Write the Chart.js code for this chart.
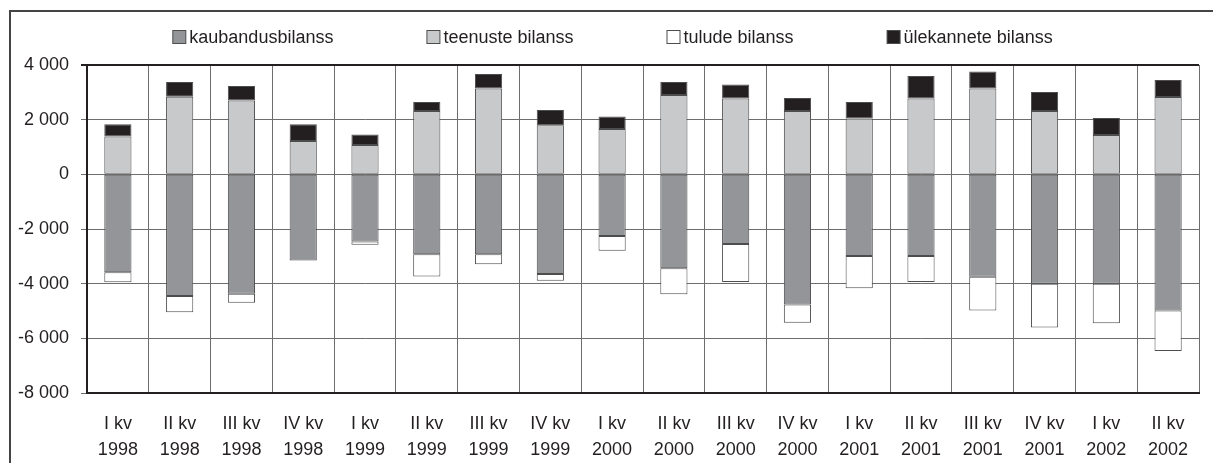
<!DOCTYPE html>
<html>
<head>
<meta charset="utf-8">
<script src="https://cdn.jsdelivr.net/npm/chart.js@4"></script>
<style>
  html, body { margin: 0; padding: 0; background: #fff; overflow: hidden; }
  #frame { position: absolute; left: 9px; top: 10px; width: 1300px; height: 600px; border: 2px solid #444; }
  #wrap { position: absolute; left: 0; top: 0; width: 1213px; height: 463px; }
</style>
</head>
<body>
<div id="frame"></div>
<div id="wrap"><canvas id="balance" width="1213" height="463"></canvas></div>
<script>
// --- andmed ---
const quarters = ["I kv", "II kv", "III kv", "IV kv", "I kv", "II kv", "III kv", "IV kv", "I kv",
                  "II kv", "III kv", "IV kv", "I kv", "II kv", "III kv", "IV kv", "I kv", "II kv"];
const years = ["1998", "1998", "1998", "1998", "1999", "1999", "1999", "1999", "2000",
               "2000", "2000", "2000", "2001", "2001", "2001", "2001", "2002", "2002"];
const kaubandus = [-3580, -4450, -4370, -3150, -2460, -2920, -2920, -3650, -2260,
                   -3440, -2550, -4760, -2990, -2990, -3750, -4000, -4000, -4980];
const teenused = [1380, 2840, 2700, 1220, 1070, 2320, 3140, 1800, 1660,
                  2900, 2770, 2320, 2040, 2770, 3140, 2320, 1440, 2830];
const tulud = [-370, -600, -330, 0, -120, -820, -370, -240, -540,
               -950, -1390, -670, -1180, -950, -1230, -1600, -1450, -1480];
const ylekanded = [450, 540, 530, 610, 390, 330, 530, 550, 460,
                   480, 520, 475, 605, 830, 625, 695, 620, 620];
const yTicks = [4000, 2000, 0, -2000, -4000, -6000, -8000];

const FONT = "'Liberation Sans', Arial, sans-serif";
const TEXT = "#231f20";
const EDGE = "#4d4d4d";

// legend drawn by hand: Excel-like spacing
const legendPlugin = {
    id: "excelLegend",
    afterDraw(chart) {
        const ctx = chart.ctx;
        const box = 14, gap = 3, space = 93;
        ctx.save();
        ctx.font = "18px " + FONT;
        const items = chart.data.datasets.map(ds => ({
            label: ds.label,
            color: ds.backgroundColor,
            w: box + gap + ctx.measureText(ds.label).width
        }));
        const total = items.reduce((s, it) => s + it.w, 0) + space * (items.length - 1);
        let x = chart.width / 2 + 6 - total / 2;
        const y = 37;
        items.forEach(it => {
            ctx.fillStyle = it.color;
            ctx.fillRect(x + 0.5, y - 6.5, box - 1, box - 1);
            ctx.strokeStyle = EDGE;
            ctx.lineWidth = 1;
            ctx.strokeRect(x + 0.5, y - 6.5, box - 1, box - 1);
            ctx.fillStyle = TEXT;
            ctx.textBaseline = "middle";
            ctx.fillText(it.label, x + box + gap, y + 1);
            x += it.w + space;
        });
        ctx.restore();
    }
};

function fmt(v) {
    const s = String(Math.abs(v)).replace(/\B(?=(\d{3})+(?!\d))/g, " ");
    return (v < 0 ? "-" : "") + s;
}

new Chart(document.getElementById("balance"), {
    type: "bar",
    data: {
        labels: quarters.map((q, i) => [q, years[i]]),
        datasets: [
            { label: "kaubandusbilanss", data: kaubandus, backgroundColor: "#939598" },
            { label: "teenuste bilanss", data: teenused, backgroundColor: "#c8c9cb" },
            { label: "tulude bilanss", data: tulud, backgroundColor: "#ffffff" },
            { label: "ülekannete bilanss", data: ylekanded, backgroundColor: "#231f20" }
        ]
    },
    options: {
        responsive: false,
        animation: false,
        layout: { padding: { top: 65, right: 14, bottom: 0, left: 0 } },
        datasets: {
            bar: {
                borderColor: EDGE,
                borderWidth: 1,
                borderSkipped: false,
                categoryPercentage: 1,
                barPercentage: 0.44
            }
        },
        plugins: {
            legend: { display: false },
            tooltip: { enabled: false }
        },
        scales: {
            x: {
                stacked: true,
                grid: {
                    offset: true,
                    drawTicks: false,
                    color: ctx => ctx.index === quarters.length ? TEXT : "#6d6d6d",
                    lineWidth: ctx => ctx.index === quarters.length ? 2 : 1
                },
                border: { color: TEXT, width: 2 },
                ticks: {
                    color: TEXT,
                    padding: 18,
                    maxRotation: 0,
                    autoSkip: false,
                    font: { family: FONT, size: 18, lineHeight: 1.45 }
                },
                afterFit: s => { s.height = 70; }
            },
            y: {
                stacked: true,
                min: -8000,
                max: 4000,
                afterBuildTicks: s => { s.ticks = yTicks.map(v => ({ value: v })); },
                grid: {
                    tickLength: 6,
                    color: ctx => ctx.tick && ctx.tick.value === 4000 ? TEXT : "#6d6d6d",
                    lineWidth: ctx => ctx.tick && ctx.tick.value === 4000 ? 2 : 1
                },
                border: { color: TEXT, width: 2 },
                ticks: {
                    color: TEXT,
                    padding: 12,
                    font: { family: FONT, size: 18 },
                    callback: v => fmt(v)
                },
                afterFit: s => { s.width = 87; }
            }
        }
    },
    plugins: [legendPlugin]
});
</script>
</body>
</html>
